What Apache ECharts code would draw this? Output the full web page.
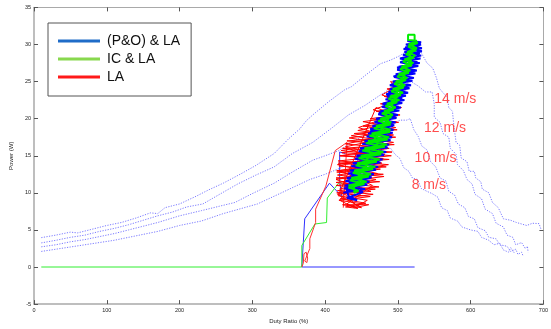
<!DOCTYPE html>
<html>
<head>
<meta charset="utf-8">
<script src="https://cdn.jsdelivr.net/npm/echarts@6/dist/echarts.min.js"></script>
<style>html,body{margin:0;padding:0;background:#fff}#c{width:551px;height:329px}</style>
</head>
<body>
<div id="c"></div>
<script>
// ---- axis ticks ----
const xTicks = [0, 100, 200, 300, 400, 500, 600, 700];
const yTicks = [-5, 0, 5, 10, 15, 20, 25, 30, 35];

// ---- legend / series names ----
const seriesNames = ['(P&O) & LA', 'IC & LA', 'LA'];

// ---- power-duty curves (dotted), [duty %, power W] ----
const p14 = [[10,3.96],[30,4.3],[50,4.7],[60,4.6],[80,5.1],[100,5.6],[120,6.0],[140,6.6],[160,7.3],[170,7.2],[180,8.0],[200,8.5],[223,9.55],[240,10.4],[260,11.3],[285,12.6],[305,13.7],[330,15.3],[350,17.3],[365,18.6],[374,19.7],[383,20.5],[405,22.3],[427,23.9],[436,24.3],[456,25.9],[476,27.4],[490,27.9],[503,28.5],[515,29.3],[525,29.8],[532,28.9],[540,27.5],[548,26.8],[553,25.5],[557,24.1],[562,23.5],[568,22.9],[570,21.5],[575,21.0],[577,19.0],[580,16.8],[585,16.4],[587,14.7],[595,14.2],[598,12.9],[605,12.9],[607,12.0],[614,11.5],[616,10.5],[625,10.0],[630,8.7],[638,8.0],[645,6.5],[655,6.3],[663,6.0],[670,5.8],[677,5.6],[685,5.9],[694,5.85],[697,5.0]];
const p12 = [[10,3.25],[30,3.6],[50,4.0],[70,4.3],[90,4.8],[110,5.2],[130,5.7],[150,6.3],[170,6.9],[190,7.4],[210,8.1],[232,8.5],[255,9.8],[280,11.2],[305,12.4],[330,13.5],[355,15.3],[383,16.8],[410,18.8],[432,20.5],[455,21.8],[476,23.2],[494,24.3],[508,24.9],[518,25.0],[528,24.4],[538,23.6],[547,23.6],[550,22.0],[550,20.2],[558,19.5],[562,18.0],[570,17.5],[572,16.0],[580,15.2],[582,13.8],[590,13.0],[595,11.8],[602,11.2],[606,9.8],[615,9.2],[620,7.8],[630,7.2],[635,5.9],[645,5.4],[650,4.3],[658,4.0],[662,3.0],[670,3.3],[675,2.5],[678,2.8],[679,2.0]];
const p10 = [[10,2.72],[30,3.0],[50,3.4],[70,3.7],[90,4.1],[110,4.5],[130,5.0],[150,5.5],[170,6.0],[200,6.9],[230,7.6],[255,8.2],[276,8.7],[300,9.9],[330,11.3],[355,12.8],[383,14.4],[400,15.0],[419,15.7],[436,16.8],[455,17.8],[475,18.5],[492,19.3],[503,19.8],[512,19.8],[517,20.0],[522,18.5],[528,17.6],[533,16.3],[540,15.8],[545,14.2],[552,13.5],[558,12.0],[566,11.6],[570,10.2],[578,9.7],[583,8.5],[592,8.0],[597,6.8],[605,6.5],[610,5.3],[620,4.9],[625,4.0],[635,3.8],[640,3.0],[650,2.8],[655,2.1],[662,2.4],[665,1.7],[670,2.0],[672,1.5]];
const p8 = [[10,2.1],[30,2.4],[50,2.7],[70,3.0],[90,3.3],[110,3.6],[130,4.0],[150,4.4],[170,4.8],[200,5.6],[230,6.2],[260,7.2],[307,8.5],[340,10.0],[379,11.8],[400,12.5],[420,13.3],[440,14.2],[455,14.8],[470,15.4],[480,15.9],[490,16.0],[496,15.2],[503,14.6],[508,13.4],[515,12.9],[520,12.0],[527,11.8],[532,10.6],[540,10.2],[547,9.9],[555,9.4],[560,8.0],[568,7.6],[572,6.6],[582,6.2],[588,5.4],[600,5.0],[610,4.8],[615,4.0],[625,3.6],[632,3.0],[640,3.2],[645,2.3],[652,2.0],[655,2.6],[660,1.9]];

// ---- tracking trajectories, [duty %, power W] ----
// start-up transients
const poLAStart = [[523,0],[368,0],[370,0],[372,6.5],[406,11.3],[423,9.5],[420,11.5],[420,15.5],[428,15.3]];
const icLAStart = [[10,0],[368,0],[368,2.9],[386,5.8],[402,6.0],[403,9.3],[420,11.5],[436,10.2]];
const laStart = [[368,0],[370,0.5],[371,1.8],[374,2.0],[376,1.2],[375,0.6],[372,0.8],[379,2.5],[379,3.8],[387,6.0],[387,7.8],[401,10.9],[414,15.7],[430,16.8],[425,8]];
// tracking clusters around the maximum power points
const poLA = [[425,10],[455,10.5],[427,11],[461,11.5],[430,12],[467,12.5],[434,13],[473,13.5],[438,14],[479,14.5],[443,15],[484,15.5],[448,16],[488,16.5],[454,17],[492,17.5],[459,18],[494,18.5],[465,19],[497,19.5],[470,20],[500,20.5],[476,21],[504,21.5],[481,22],[509,22.5],[485,23],[514,23.5],[489,24],[518,24.5],[493,25],[522,25.5],[497,26],[526,26.5],[501,27],[530,27.5],[505,28],[532,28.5],[509,29],[533,29.5],[511,30],[532,30.3],[513,30.5],
 [531,30.0],[510,29.6],[533,29.1],[507,28.6],[531,28.1],[503,27.6],[528,27.1],[499,26.6],[524,26.1],[495,25.6],[520,25.1],[491,24.6],[516,24.1],[487,23.6],[511,23.1],[483,22.6],[506,22.1],[478,21.6],[502,21.1],[473,20.6],[498,20.1],[468,19.6],[495,19.1],[462,18.6],[493,18.1],[457,17.6],[490,17.1],[451,16.6],[486,16.1],[446,15.6],[481,15.1],[441,14.6],[476,14.1],[436,13.6],[470,13.1],[432,12.6],[464,12.1],[428,11.6],[458,11.1],[426,10.6],[452,10.1],[430,9.3],[444,9.0],[432,9.6],
 [430,10.4],[448,10.2],[433,11.4],[462,12.0],[436,12.4],[468,13.2],[440,13.5],[474,14.3],[445,14.6],[480,15.4],[450,15.7],[485,16.4],[456,16.9],[489,17.6],[462,18.3],[493,19],[468,19.5],[497,20.4],[474,20.8],[501,21.6],[479,22.0],[506,22.8],[484,23.3],[512,24.0],[489,24.5],[517,25.2],[494,25.7],[522,26.4],[499,26.9],[527,27.6],[503,28.1],[530,28.8],[508,29.4],[532,30.0]];
const icLA = [[432,11],[457,11.5],[436,12],[463,12.5],[440,13],[469,13.5],[444,14],[475,14.5],[449,15],[480,15.5],[454,16],[485,16.5],[459,17],[488,17.5],[464,18],[490,18.5],[470,19],[491,19.5],[476,20],[493,20.5],[481,21],[497,21.5],[485,22],[502,22.5],[489,23],[507,23.5],[493,24],[510,24.5],[497,25],[513,25.5],[501,26],[517,26.5],[505,27],[521,27.5],[509,28],[524,28.5],[513,29],[526,29.5],[515,30],[526,30.5],[514,30.6],[514,31.3],[523,31.3],[523,30.6],
 [527,30.2],[514,29.7],[525,29.2],[511,28.7],[522,28.2],[507,27.7],[519,27.2],[503,26.7],[515,26.2],[499,25.7],[511,25.2],[495,24.7],[508,24.2],[491,23.7],[504,23.2],[487,22.7],[499,22.2],[483,21.7],[494,21.2],[478,20.7],[491,20.2],[473,19.7],[490,19.2],[467,18.7],[489,18.2],[461,17.7],[486,17.2],[456,16.7],[482,16.2],[451,15.7],[477,15.2],[446,14.7],[471,14.2],[442,13.7],[466,13.2],[438,12.7],[460,12.2],[434,11.7],[454,11.2],[432,10.7],[446,10.3],[440,10.0],
 [440,11],[450,11.8],[445,12.6],[457,13.4],[452,14.2],[464,15],[460,15.8],[472,16.6],[468,17.4],[480,18.2],[476,19],[487,19.8],[484,20.6],[493,21.4],[491,22.2],[500,23],[498,23.8],[506,24.6],[505,25.4],[512,26.2],[511,27],[518,27.8],[517,28.6],[522,29.4],[520,30.2]];
const la = [[452,8.5],[419,9],[462,9.5],[416,10],[469,10.5],[415,11],[475,11.5],[415,12],[480,12.5],[416,13],[484,13.5],[418,14],[488,14.5],[420,15],[492,15.5],[424,16],[495,16.5],[430,17],[497,17.5],[440,18],[499,18.5],[452,19],[501,19.5],[462,20],[503,20.5],[470,21],[505,21.5],[476,22],[507,22.5],[481,23],[508,23.5],[485,24],[509,24.5],[490,25],
 [496,24.2],[478,23.2],[500,22.4],[466,21.2],[498,20.2],[452,19.6],[497,18.8],[436,17.7],[494,16.8],[422,15.7],[491,15],[418,14.3],[487,13.8],[416,12.8],[481,12.2],[415,11.4],[474,10.8],[417,10.3],[466,9.8],[421,9.2],[456,8.6],[428,8.1],[445,7.9],
 [430,8.5],[465,11],[420,13],[478,14],[428,16.2],[488,17.5],[446,18.8],[495,20.5],[470,21.5],
 [418,9.6],[458,9.0],[444,8.2],[420,10.5],[470,11.8],[417,12.4],[476,13.2],[419,13.6],[482,15.2],[423,15.4],[486,16.6],[433,17.4],[490,18.2],[420,9.0],[440,8.0],[460,8.4],
 [424,8.4],[450,8.0],[417,9.8],[463,10.2],[415,11.8],[472,12.6],[417,13.8],[480,14.6],[421,15.0],[488,16.0],[428,16.6],[494,17.8],[445,18.4],[498,19.6]];

// ---- wind-speed annotations ----
const windLabels = ['14 m/s', '12 m/s', '10 m/s', '8 m/s'];
const windLabelAt = [[550, 22.6], [536, 18.7], [523, 14.7], [519, 11.1]];

const chart = echarts.init(document.getElementById('c'), null, {renderer: 'canvas'});
const axisGray = '#a9a9a9';
const tickDark = '#555';
const font = 'Liberation Sans, Arial, sans-serif';
function dotted(name, data) {
  return {name: name, type: 'line', data: data, showSymbol: false, silent: true,
    lineStyle: {color: '#7b7bff', width: 1, type: [1.2, 1.4]}, z: 1};
}
function track(name, data, color, width, z) {
  return {name: name, type: 'line', data: data, showSymbol: false, silent: true,
    itemStyle: {color: color}, lineStyle: {color: color, width: width}, z: z};
}
const baseX = {type: 'value', min: xTicks[0], max: xTicks[xTicks.length - 1], interval: xTicks[1] - xTicks[0], splitLine: {show: false}};
const baseY = {type: 'value', min: yTicks[0], max: yTicks[yTicks.length - 1], interval: yTicks[1] - yTicks[0], splitLine: {show: false}};
chart.setOption({
  animation: false,
  backgroundColor: '#fff',
  grid: {left: 22.7, right: 3.3, top: 7.4, bottom: 18.8, containLabel: false},
  xAxis: [
    Object.assign({}, baseX, {position: 'bottom',
      axisLine: {onZero: false, lineStyle: {color: axisGray, width: 1.5}},
      axisTick: {inside: true, length: 4, lineStyle: {color: tickDark}},
      axisLabel: {fontSize: 5.5, color: '#222', margin: 3, fontFamily: font},
      name: 'Duty Ratio (%)', nameLocation: 'middle', nameGap: 12,
      nameTextStyle: {fontSize: 6, color: '#222', fontFamily: font}}),
    Object.assign({}, baseX, {position: 'top',
      axisLine: {onZero: false, lineStyle: {color: axisGray, width: 1}},
      axisTick: {inside: true, length: 4, lineStyle: {color: tickDark}},
      axisLabel: {show: false}})
  ],
  yAxis: [
    Object.assign({}, baseY, {position: 'left',
      axisLine: {onZero: false, lineStyle: {color: axisGray, width: 1.5}},
      axisTick: {inside: true, length: 4, lineStyle: {color: tickDark}},
      axisLabel: {fontSize: 5.5, color: '#222', margin: 3, fontFamily: font},
      name: 'Power (W)', nameLocation: 'middle', nameGap: 12,
      nameTextStyle: {fontSize: 6, color: '#222', fontFamily: font}}),
    Object.assign({}, baseY, {position: 'right',
      axisLine: {onZero: false, lineStyle: {color: axisGray, width: 1}},
      axisTick: {inside: true, length: 4, lineStyle: {color: tickDark}},
      axisLabel: {show: false}})
  ],
  legend: {
    orient: 'vertical', left: 48, top: 23,
    backgroundColor: '#fff', borderColor: '#555', borderWidth: 1,
    padding: [11, 11, 12, 10], itemGap: 4, itemWidth: 42, itemHeight: 3,
    textStyle: {fontSize: 14, color: '#111', fontFamily: font, padding: [0, 0, 0, 2]},
    data: [
      {name: seriesNames[0], icon: 'rect', itemStyle: {color: '#1f6cc8'}},
      {name: seriesNames[1], icon: 'rect', itemStyle: {color: '#88d84e'}},
      {name: seriesNames[2], icon: 'rect', itemStyle: {color: '#ff1a1a'}}
    ]
  },
  series: [
    dotted('14', p14), dotted('12', p12), dotted('10', p10), dotted('8', p8),
    track(seriesNames[0], poLAStart, '#3030ff', 1, 2),
    track(seriesNames[1], icLAStart, '#30ee30', 1, 2),
    track(seriesNames[2], laStart, '#ff3030', 1, 2),
    track(seriesNames[2], la, '#ff0000', 1, 3),
    track(seriesNames[0], poLA, '#0000ff', 2, 4),
    track(seriesNames[1], icLA, '#00ee00', 2, 5),
    {name: 'wind', type: 'scatter', symbolSize: 0, silent: true, z: 10,
      data: windLabelAt.map((p, i) => ({value: p, name: windLabels[i]})),
      label: {show: true, position: 'right', distance: 0, formatter: '{b}',
        color: '#ff2020', fontSize: 14, fontFamily: font}}
  ]
});
</script>
</body>
</html>
